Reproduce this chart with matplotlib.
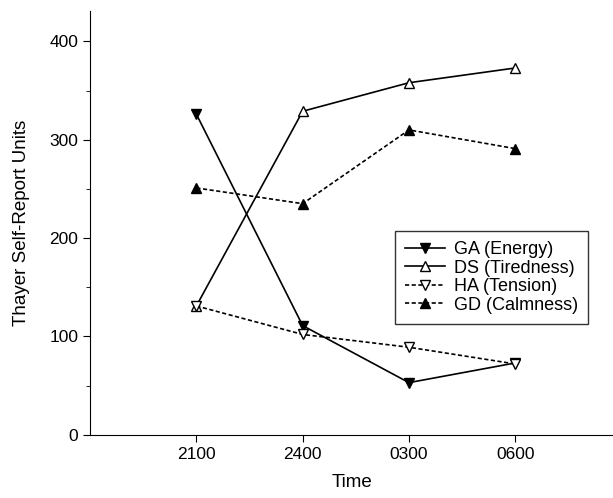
import matplotlib
matplotlib.use("Agg")
import matplotlib.pyplot as plt
from matplotlib.ticker import MultipleLocator

plt.rcParams['font.family'] = ['Liberation Sans', 'DejaVu Sans']

times = ["2100", "2400", "0300", "0600"]
ga = [326, 111, 53, 73]
ds = [131, 329, 358, 373]
ha = [131, 102, 89, 72]
gd = [251, 235, 310, 291]

x = [1, 2, 3, 4]

fig = plt.figure(figsize=(6.13, 4.98), dpi=100)
ax = fig.add_axes([0.147, 0.127, 0.853, 0.851])

ax.plot(x, ga, '-', color='black', lw=1.2, marker='v', ms=6.5, mfc='black', mec='black', label='GA (Energy)')
ax.plot(x, ds, '-', color='black', lw=1.2, marker='^', ms=7, mfc='white', mec='black', label='DS (Tiredness)')
ax.plot(x, ha, linestyle=(0, (2.5, 1.5)), color='black', lw=1.2, marker='v', ms=7, mfc='white', mec='black', label='HA (Tension)')
ax.plot(x, gd, linestyle=(0, (2.5, 1.5)), color='black', lw=1.2, marker='^', ms=6.5, mfc='black', mec='black', label='GD (Calmness)')

ax.set_xlim(0, 4.92)
ax.set_ylim(0, 431)
ax.set_xticks(x)
ax.set_xticklabels(times)
ax.yaxis.set_major_locator(MultipleLocator(100))
ax.yaxis.set_minor_locator(MultipleLocator(50))
ax.tick_params(axis='both', which='major', labelsize=12.5, direction='out', length=5)
ax.tick_params(axis='y', which='minor', direction='out', length=3)
for s in ['top', 'right']:
    ax.spines[s].set_visible(False)
ax.set_xlabel('Time', fontsize=13.5, labelpad=9)
ax.set_ylabel('Thayer Self-Report Units', fontsize=13.5, labelpad=14)

leg = ax.legend(loc='upper left', bbox_to_anchor=(0.584, 0.48), fontsize=13,
                frameon=True, fancybox=False, edgecolor='black', handlelength=2.2,
                labelspacing=0.08, borderpad=0.55, handletextpad=0.5, borderaxespad=0)
leg.get_frame().set_linewidth(1.0)

fig.savefig('out.png', dpi=100)
